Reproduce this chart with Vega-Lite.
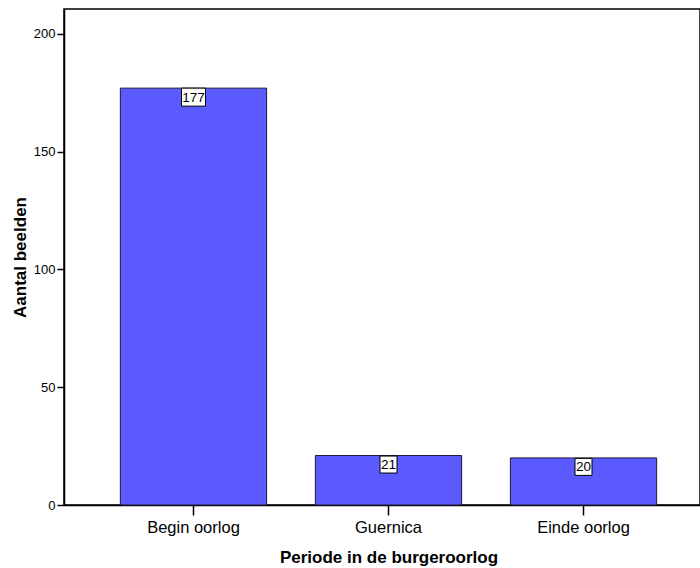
{
  "$schema": "https://vega.github.io/schema/vega-lite/v6.json",
  "width": 636,
  "height": 496,
  "autosize": {"type": "none"},
  "padding": {"left": 64, "top": 9, "right": 0, "bottom": 63},
  "background": "white",
  "data": {
    "values": [
      {"Periode": "Begin oorlog", "Aantal": 177},
      {"Periode": "Guernica", "Aantal": 21},
      {"Periode": "Einde oorlog", "Aantal": 20}
    ]
  },
  "encoding": {
    "x": {
      "field": "Periode",
      "type": "nominal",
      "sort": ["Begin oorlog", "Guernica", "Einde oorlog"],
      "scale": {"range": [0, 649], "paddingInner": 0.25, "paddingOuter": 0.289},
      "axis": {
        "title": "Periode in de burgeroorlog",
        "labelAngle": 0,
        "labelFontSize": 16.5,
        "labelPadding": 4,
        "tickSize": 10,
        "titlePadding": 14
      }
    },
    "y": {
      "field": "Aantal",
      "type": "quantitative",
      "scale": {"domain": [0, 210.6], "nice": false},
      "axis": {
        "title": "Aantal beelden",
        "values": [0, 50, 100, 150, 200],
        "labelFontSize": 13,
        "labelPadding": 2,
        "tickSize": 7,
        "grid": false,
        "titlePadding": 4
      }
    }
  },
  "layer": [
    {
      "mark": {"type": "bar", "fill": "#5a5aff", "stroke": "#1a1a33", "strokeWidth": 1}
    },
    {
      "transform": [{"filter": "datum.Aantal >= 100"}],
      "mark": {
        "type": "point",
        "shape": "M-12,-9L12,-9L12,9L-12,9Z",
        "size": 4,
        "filled": true,
        "fill": "white",
        "stroke": "black",
        "strokeWidth": 1,
        "opacity": 1,
        "yOffset": 9
      }
    },
    {
      "transform": [{"filter": "datum.Aantal < 100"}],
      "mark": {
        "type": "point",
        "shape": "M-8.5,-8.5L8.5,-8.5L8.5,8.5L-8.5,8.5Z",
        "size": 4,
        "filled": true,
        "fill": "white",
        "stroke": "black",
        "strokeWidth": 1,
        "opacity": 1,
        "yOffset": 9
      }
    },
    {
      "mark": {
        "type": "text",
        "font": "Liberation Sans",
        "fontSize": 13.5,
        "color": "black",
        "baseline": "middle",
        "yOffset": 9.5
      },
      "encoding": {"text": {"field": "Aantal", "type": "quantitative"}}
    }
  ],
  "config": {
    "view": {"stroke": "black", "strokeWidth": 1.5},
    "font": "Liberation Sans",
    "axis": {
      "labelFont": "Liberation Sans",
      "titleFont": "Liberation Sans",
      "labelColor": "black",
      "titleColor": "black",
      "domainColor": "black",
      "tickColor": "black",
      "titleFontSize": 17,
      "titleFontWeight": "bold",
      "domainWidth": 1.5,
      "tickWidth": 1.5
    }
  }
}
